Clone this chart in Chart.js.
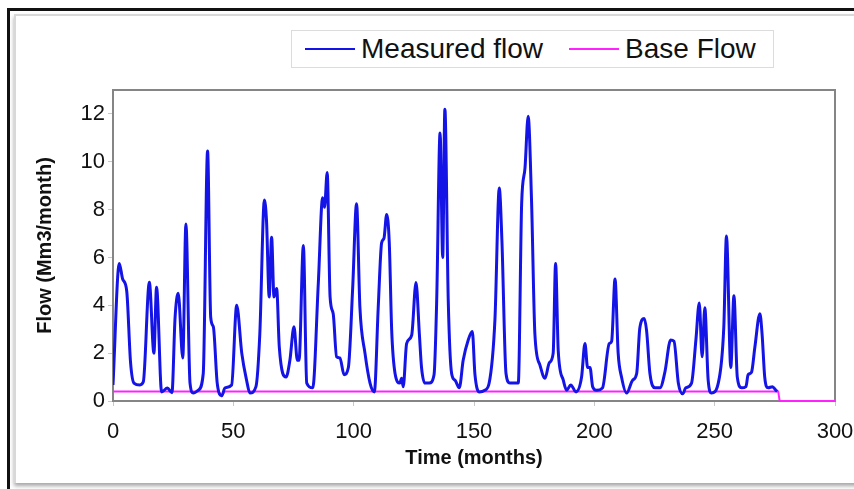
<!DOCTYPE html>
<html>
<head>
<meta charset="utf-8">
<script src="https://cdn.jsdelivr.net/npm/chart.js@4.4.1/dist/chart.umd.min.js"></script>
<style>
  html, body { margin: 0; padding: 0; background: #fff; }
  body { width: 854px; height: 489px; overflow: hidden; position: relative; font-family: "Liberation Sans", Arial, sans-serif; }
  .frame { position: absolute; left: 7px; top: 8px; width: 900px; height: 520px; border-left: 3px solid #111; border-top: 3px solid #111; }
  .card { position: absolute; left: 14px; top: 14px; width: 900px; height: 467px; background: #fff;
          border-left: 2px solid #d8d8d8; border-top: 2px solid #d8d8d8; box-shadow: 0 3px 4px rgba(0,0,0,0.35); }
  #chartWrap { position: absolute; left: 0; top: 0; width: 854px; height: 489px; }
  #legend { position: absolute; left: 291px; top: 30px; width: 481px; height: 36px; border: 1px solid #dcdcdc; background: #fff;
            display: flex; align-items: center; font-size: 28px; color: #111; }
  .item { display: flex; align-items: center; }
  .swatch { display: inline-block; width: 50px; height: 2px; margin-right: 6px; }
</style>
</head>
<body>
<div class="frame"></div>
<div class="card"></div>
<div id="chartWrap"><canvas id="flowChart" width="854" height="489"></canvas></div>
<div id="legend"></div>
<script>
// Measured flow at peaks and troughs (month, Mm3/month)
const flowMonths = [0, 2.6, 4, 5.7, 7.3, 8.7, 11.2, 12.6, 15.1, 17, 18.1, 20.2, 22.6, 24.5, 25.8, 27.1, 29, 30.3, 32, 33.4,
  35.4, 37.5, 39.3, 40.6, 41.7, 43.3, 45.2, 46.5, 49.3, 51.4, 53.5, 55.5, 56.9, 59.4, 61, 62.9, 63.8, 64.9, 65.9, 66.9,
  68, 69.1, 71.9, 73.5, 75.2, 76.6, 77.3, 79.1, 80.5, 83, 85.3, 87.1, 87.9, 89, 90.2, 91.5, 92.9, 94.3, 96, 97.8,
  99.6, 101.2, 102.6, 104.7, 106.8, 108.6, 110.2, 111.6, 112.6, 113.7, 114.8, 115.8, 117.2, 119.2, 119.9, 120.6, 122, 124.1, 125.9, 127.3,
  128.2, 129.6, 131.4, 133.4, 134.5, 135.9, 137, 137.9, 139.3, 140.7, 142.1, 143.9, 145.5, 147.6, 149.3, 150.4, 152.2, 154.5, 156.3, 158.7,
  160.5, 161.6, 163.3, 164.9, 166.6, 168.4, 169.8, 171.2, 172.5, 173.9, 175.3, 177.4, 179.5, 181.3, 182.9, 183.9, 185, 187.1, 188.5, 190.2,
  192.4, 194.7, 196.1, 197.2, 198.2, 199.3, 200.9, 203.4, 206.2, 207.2, 208.6, 209.9, 211.3, 213.4, 215.9, 217.6, 218.9, 220.7, 221.7, 223.1,
  225.2, 227.3, 229.3, 231.7, 233.1, 234.9, 236.7, 238, 240.4, 242.2, 243.6, 244.8, 245.9, 247.3, 248.7, 251.5, 253.8, 254.9, 256.7, 258,
  259.4, 261.2, 263, 263.9, 265.3, 266.7, 268.8, 269.7, 270.8, 272.2, 274, 275.4, 276];
const flowValues = [0.67, 5.75, 5.1, 4.6, 1.6, 0.75, 0.67, 0.8, 4.96, 2.0, 4.75, 0.38, 0.54, 0.35, 3.5, 4.5, 1.8, 7.4, 0.75, 0.33,
  0.45, 1.15, 10.45, 3.5, 3.1, 0.75, 0.22, 0.55, 0.67, 4.0, 2.0, 0.87, 0.33, 0.6, 2.8, 8.4, 7.5, 4.35, 6.85, 4.35,
  4.7, 2.25, 1.0, 1.7, 3.1, 1.7, 1.7, 6.5, 0.75, 0.55, 4.9, 8.5, 8.1, 9.55, 4.35, 3.65, 1.85, 1.8, 1.1, 1.4,
  4.75, 8.25, 3.9, 2.0, 0.75, 0.38, 3.9, 6.6, 6.8, 7.8, 6.6, 2.95, 1.15, 0.75, 0.95, 0.6, 2.4, 2.75, 4.95, 2.8,
  1.4, 0.75, 0.75, 1.1, 4.2, 11.2, 6.0, 12.2, 4.2, 1.15, 0.87, 0.55, 1.7, 2.55, 2.9, 1.1, 0.38, 0.45, 0.75, 3.4,
  8.9, 6.7, 1.15, 0.75, 0.75, 0.75, 8.25, 9.75, 11.9, 8.4, 2.8, 1.5, 0.95, 1.6, 2.0, 5.75, 2.1, 0.87, 0.45, 0.67,
  0.38, 1.0, 2.4, 1.4, 1.4, 0.6, 0.45, 0.55, 2.4, 2.5, 5.1, 2.0, 1.0, 0.33, 0.87, 1.15, 3.05, 3.45, 2.95, 1.15,
  0.55, 0.55, 1.2, 2.55, 2.5, 0.75, 0.3, 0.55, 0.75, 2.55, 4.1, 1.85, 3.9, 0.87, 0.33, 0.75, 3.1, 6.9, 1.4, 4.4,
  1.0, 0.55, 0.6, 1.1, 1.2, 2.25, 3.65, 2.8, 1.0, 0.55, 0.6, 0.45, 0.4];

// Base flow
const baseMonths = [0, 43.8, 45.2, 46.4, 235.6, 236.7, 237.8, 247.8, 248.7, 249.7, 276.4, 277, 300];
const baseValues = [0.4, 0.4, 0.22, 0.4, 0.4, 0.3, 0.4, 0.4, 0.33, 0.4, 0.4, 0, 0];

const xTicks = [0, 50, 100, 150, 200, 250, 300];
const yTicks = [0, 2, 4, 6, 8, 10, 12];

const toPoints = (xs, ys) => xs.map((x, i) => ({ x: x, y: ys[i] }));

// plot frame drawn under the lines
const frameBox = {
  id: 'frameBox',
  beforeDatasetsDraw(chart) {
    const { ctx, chartArea: a } = chart;
    ctx.save();
    ctx.strokeStyle = '#858585';
    ctx.lineWidth = 2;
    ctx.strokeRect(a.left, a.top, a.right - a.left, a.bottom - a.top);
    ctx.restore();
  }
};

const tickFont = { family: 'Liberation Sans', size: 22 };
const titleFont = { family: 'Liberation Sans', size: 20, weight: 'bold' };

const chart = new Chart(document.getElementById('flowChart'), {
  type: 'line',
  data: {
    datasets: [
      {
        label: 'Measured flow',
        data: toPoints(flowMonths, flowValues),
        borderColor: '#1414e6',
        borderWidth: 3,
        pointRadius: 0,
        cubicInterpolationMode: 'monotone',
        fill: false
      },
      {
        label: 'Base Flow',
        data: toPoints(baseMonths, baseValues),
        borderColor: '#ff22ff',
        borderWidth: 2,
        pointRadius: 0,
        tension: 0,
        clip: false,
        fill: false
      }
    ]
  },
  options: {
    responsive: false,
    animation: false,
    events: [],
    layout: { padding: { left: 0, right: 19, top: 90, bottom: 0 } },
    plugins: { legend: { display: false }, tooltip: { enabled: false } },
    scales: {
      x: {
        type: 'linear',
        min: 0,
        max: 300,
        afterBuildTicks: s => { s.ticks = xTicks.map(v => ({ value: v })); },
        afterFit: s => { s.height = 88; s.paddingRight = 0; s.paddingLeft = 0; },
        grid: { display: true, drawOnChartArea: false, drawTicks: true, tickLength: 5, color: '#c8c8c8' },
        border: { display: false },
        ticks: { color: '#111', font: tickFont, padding: 13, maxRotation: 0 },
        title: { display: true, text: 'Time (months)', color: '#111', font: titleFont, padding: { top: 0, bottom: 19 } }
      },
      y: {
        min: 0,
        max: 13,
        afterBuildTicks: s => { s.ticks = yTicks.map(v => ({ value: v })); },
        afterFit: s => { s.width = 113; },
        grid: { display: true, drawOnChartArea: false, drawTicks: true, tickLength: 5, color: '#c8c8c8' },
        border: { display: false },
        ticks: { color: '#111', font: tickFont, padding: 3 },
        title: { display: true, text: 'Flow (Mm3/month)', color: '#111', font: titleFont, padding: { top: 33, bottom: 0 } }
      }
    }
  },
  plugins: [frameBox]
});

// HTML legend inside a bordered box, built from the datasets
const legendEl = document.getElementById('legend');
chart.data.datasets.forEach((ds, i) => {
  const item = document.createElement('span');
  item.className = 'item';
  item.style.marginLeft = i === 0 ? '13px' : '26px';
  const sw = document.createElement('span');
  sw.className = 'swatch';
  sw.style.background = ds.borderColor;
  const txt = document.createElement('span');
  txt.textContent = ds.label;
  item.appendChild(sw);
  item.appendChild(txt);
  legendEl.appendChild(item);
});
</script>
</body>
</html>
